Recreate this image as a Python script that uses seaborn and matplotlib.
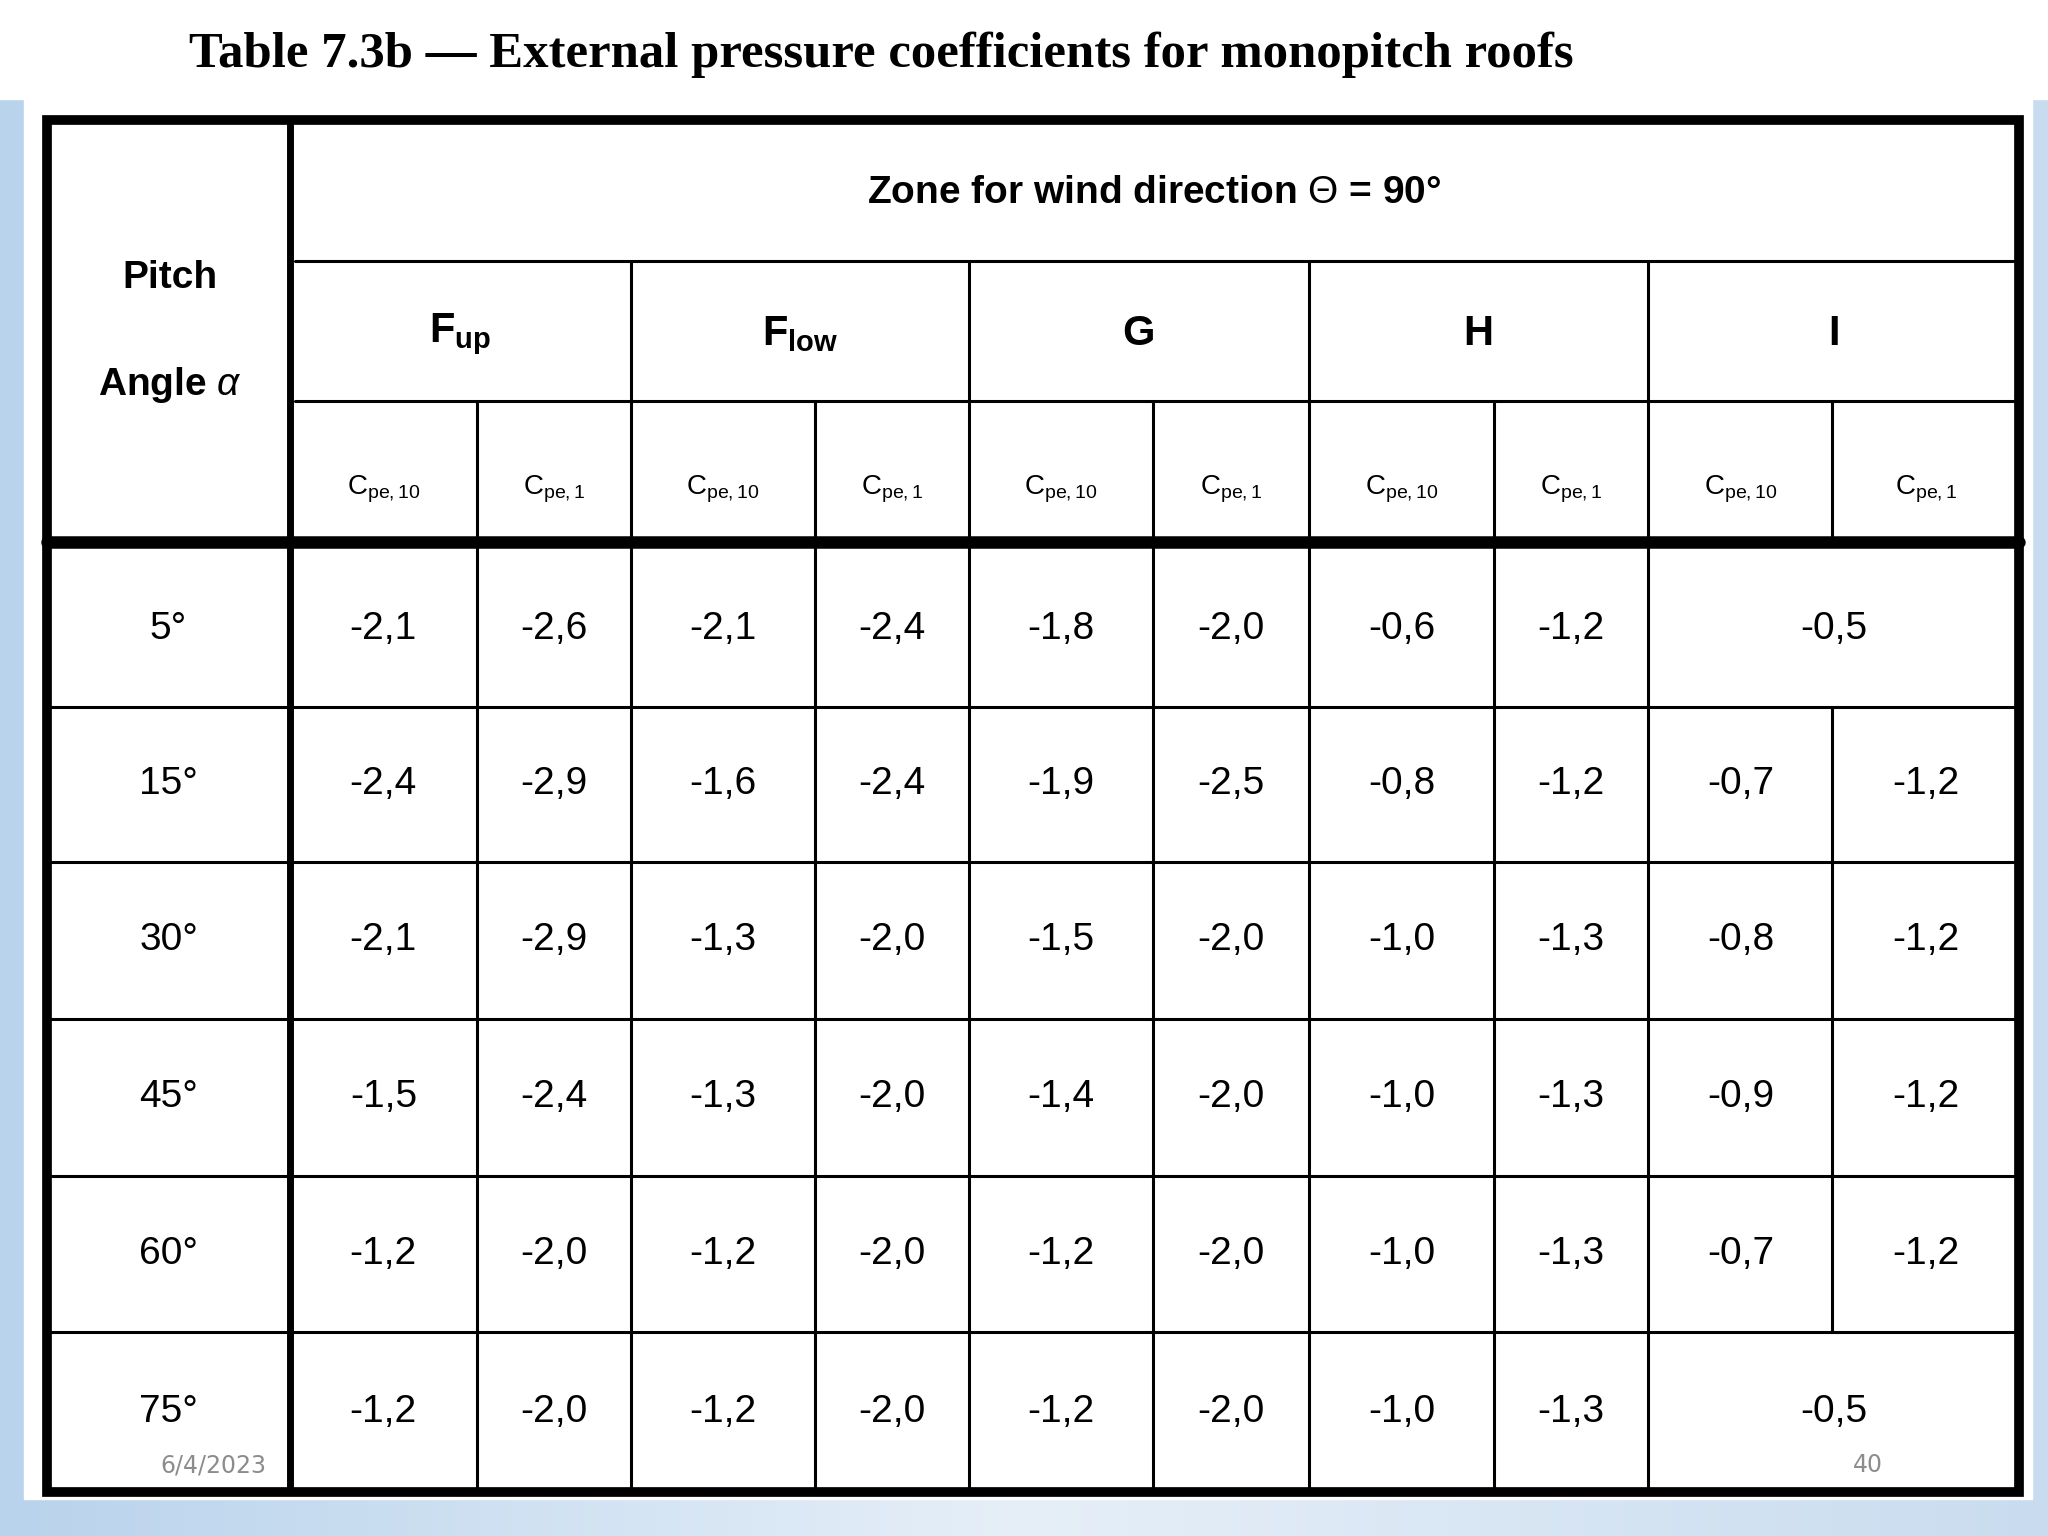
import numpy as np
import matplotlib
matplotlib.use("Agg")
import matplotlib.pyplot as plt
import seaborn as sns
from matplotlib.colors import LinearSegmentedColormap

sns.set_theme(style="white")
plt.rcParams['font.family'] = ['Liberation Sans', 'DejaVu Sans']
plt.rcParams['text.color'] = 'black'
plt.rcParams['mathtext.fontset'] = 'custom'
plt.rcParams['mathtext.rm'] = 'Liberation Sans'
plt.rcParams['mathtext.it'] = 'Liberation Sans:italic'
plt.rcParams['mathtext.bf'] = 'Liberation Sans:bold'

title = "Table 7.3b — External pressure coefficients for monopitch roofs"
angles = ["5°", "15°", "30°", "45°", "60°", "75°"]
zones = [r"$\mathbf{F_{up}}$", r"$\mathbf{F_{low}}$", "G", "H", "I"]
sub_labels = [r"$\mathregular{C_{pe,10}}$", r"$\mathregular{C_{pe,1}}$"]
values = [
    ["-2,1", "-2,6", "-2,1", "-2,4", "-1,8", "-2,0", "-0,6", "-1,2", "-0,5", None],
    ["-2,4", "-2,9", "-1,6", "-2,4", "-1,9", "-2,5", "-0,8", "-1,2", "-0,7", "-1,2"],
    ["-2,1", "-2,9", "-1,3", "-2,0", "-1,5", "-2,0", "-1,0", "-1,3", "-0,8", "-1,2"],
    ["-1,5", "-2,4", "-1,3", "-2,0", "-1,4", "-2,0", "-1,0", "-1,3", "-0,9", "-1,2"],
    ["-1,2", "-2,0", "-1,2", "-2,0", "-1,2", "-2,0", "-1,0", "-1,3", "-0,7", "-1,2"],
    ["-1,2", "-2,0", "-1,2", "-2,0", "-1,2", "-2,0", "-1,0", "-1,3", "-0,5", None],
]
footer_date = "6/4/2023"
footer_page = "40"

W, H = 1568, 1176
fig = plt.figure(figsize=(20.48, 15.36), dpi=100)
ax = fig.add_axes([0, 0, 1, 1])
ax.set_xlim(0, W); ax.set_ylim(H, 0); ax.axis("off")

grad = np.linspace(0, 1, 256)[None, :]
cm = LinearSegmentedColormap.from_list("bg", ["#b9d3ec", "#e6eff8", "#c9dcef"])
ax.imshow(grad, extent=[0, W, H, 0], aspect="auto", cmap=cm, zorder=0)
ax.add_patch(plt.Rectangle((0, 0), W, 76, color="white", zorder=1))
ax.add_patch(plt.Rectangle((18, 76), 1538, 1072, color="white", zorder=1))

ax.text(145, 42, title, fontsize=36.5, fontweight="bold", family="Liberation Serif",
        va="center", ha="left", color="black", zorder=5)

L, R, T, B = 36, 1546, 92, 1142
xs = [36, 222, 365, 483, 624, 742, 883, 1002, 1144, 1262, 1403, 1546]
ys = [422, 541, 660, 780, 900, 1020, 1142]
lw = 2.2
k = dict(color="black", zorder=4)
ax.add_patch(plt.Rectangle((L, T), R - L, B - T, fill=False, lw=7, ec="black", zorder=4))
ax.plot([222, 222], [T, B], lw=5, **k)
ax.plot([L, R], [415, 415], lw=9, **k)
ax.plot([226, R], [200, 200], lw=lw, **k)
ax.plot([226, R], [307, 307], lw=lw, **k)
for x in [483, 742, 1002, 1262]:
    ax.plot([x, x], [200, B], lw=lw, **k)
for x in [365, 624, 883, 1144]:
    ax.plot([x, x], [307, B], lw=lw, **k)
ax.plot([1403, 1403], [307, 412], lw=lw, **k)
ax.plot([1403, 1403], [541, 1020], lw=lw, **k)
for y in ys[1:-1]:
    ax.plot([L, R], [y, y], lw=lw, **k)

fs = 28
ax.text(130, 213, "Pitch", fontsize=fs, fontweight="bold", ha="center", va="center", zorder=5)
ax.text(130, 295, r"Angle $\mathit{\alpha}$", fontsize=fs, fontweight="bold", ha="center", va="center", zorder=5)
ax.text(884, 148, r"Zone for wind direction $\mathit{\Theta}$ = 90°", fontsize=fs,
        fontweight="bold", ha="center", va="center", zorder=5)
for i, z in enumerate(zones):
    cx = (xs[1 + 2 * i] + xs[3 + 2 * i]) / 2
    ax.text(cx, 256, z, fontsize=fs + 2, fontweight="bold", ha="center", va="center", zorder=5)
for j in range(10):
    cx = (xs[1 + j] + xs[2 + j]) / 2
    ax.text(cx, 375, sub_labels[j % 2], fontsize=20, ha="center", va="center", zorder=5)

for r, (a, row) in enumerate(zip(angles, values)):
    cy = (ys[r] + ys[r + 1]) / 2
    ax.text(129, cy, a, fontsize=fs, ha="center", va="center", zorder=5)
    for j, v in enumerate(row):
        if v is None:
            continue
        if row[9] is None and j == 8:
            cx = (1262 + 1546) / 2
        else:
            cx = (xs[1 + j] + xs[2 + j]) / 2
        ax.text(cx, cy, v, fontsize=fs, ha="center", va="center", zorder=5)

ax.text(123, 1122, footer_date, fontsize=17, color="#8c8c8c", family="DejaVu Sans", va="center", zorder=6)
ax.text(1430, 1122, footer_page, fontsize=17, color="#8c8c8c", family="DejaVu Sans", ha="center", va="center", zorder=6)

fig.savefig("out.png", dpi=100)
